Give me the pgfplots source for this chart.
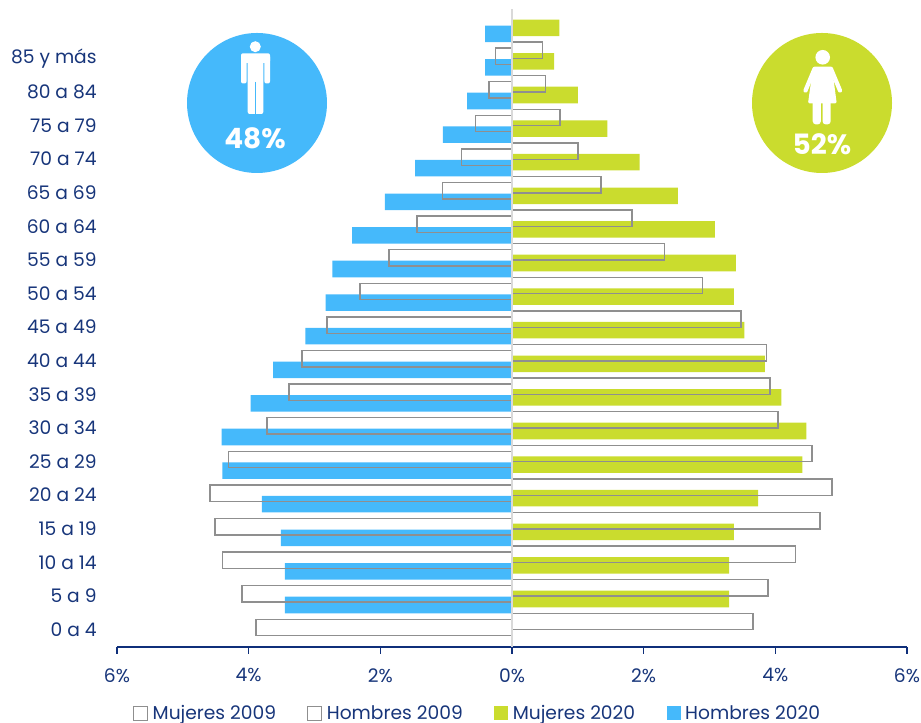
\documentclass[border=0pt]{standalone}
\usepackage{pgfplots}
\pgfplotsset{compat=1.18}
\usepackage{fontspec}
\setmainfont{Poppins}
\definecolor{navy}{HTML}{17357A}
\definecolor{axnavy}{HTML}{0F2F7A}
\definecolor{azul}{HTML}{45B9FB}
\definecolor{verde}{HTML}{CADC2E}
\definecolor{gris}{HTML}{8F8F8F}
\definecolor{eje}{HTML}{D9D9D9}
\begin{document}
\begin{tikzpicture}
\path[use as bounding box] (-87.75pt,-57pt) rectangle (603pt,485.25pt);
\begin{axis}[
  at={(0,0)},anchor=south west,scale only axis,
  width=592.5pt,height=478.5pt,
  xmin=-6,xmax=6,ymin=-0.580,ymax=18.408,
  axis x line*=bottom,axis y line*=left,
  y axis line style={draw=none},
  x axis line style={axnavy,line width=1.5pt,-},
  xtick={-6,-4,-2,0,2,4,6},
  xticklabels={6\%,4\%,2\%,0\%,2\%,4\%,6\%},
  ytick={0,1,...,17},
  yticklabels={0 a 4,5 a 9,10 a 14,15 a 19,20 a 24,25 a 29,30 a 34,35 a 39,40 a 44,45 a 49,50 a 54,55 a 59,60 a 64,65 a 69,70 a 74,75 a 79,80 a 84,85 y más},
  tick align=outside,major tick length=5.25pt,
  x tick style={axnavy,line width=1.1pt},
  y tick style={draw=none},
  tick label style={font=\fontsize{14}{16}\selectfont,text=navy},
  y tick label style={xshift=-6.5pt,yshift=-1.5pt},
  x tick label style={yshift=-7.25pt},
  /pgf/number format/assume math mode=true,
  xbar,bar shift=0pt,bar width=12.4pt,
  clip=false,
  legend columns=4,
  legend cell align=left,
  legend style={draw=none,fill=none,at={(0.5,-0.0)},anchor=north,yshift=-41.5pt,xshift=-25.5pt,
    font=\fontsize{14}{16}\selectfont,text=navy,inner sep=0pt,outer sep=0pt,
    /tikz/every even column/.append style={column sep=21.5pt}},
  legend image code/.code={\path[#1,line width=0.75pt] (0pt,-5.25pt) rectangle (10.5pt,5.25pt);\path (12pt,0pt);},
]
\addlegendimage{draw=gris,fill=white}
\addlegendentry{Mujeres 2009}
\addlegendimage{draw=gris,fill=white}
\addlegendentry{Hombres 2009}
\addlegendimage{draw=none,fill=verde}
\addlegendentry{Mujeres 2020}
\addlegendimage{draw=none,fill=azul}
\addlegendentry{Hombres 2020}

% Hombres 2020
\addplot[forget plot,draw=none,fill=azul] coordinates {
(-3.45,0.67)(-3.45,1.67)(-3.51,2.67)(-3.80,3.67)(-4.40,4.67)(-4.41,5.67)
(-3.97,6.67)(-3.63,7.67)(-3.14,8.67)(-2.83,9.67)(-2.73,10.67)(-2.43,11.67)
(-1.93,12.67)(-1.47,13.67)(-1.05,14.67)(-0.68,15.67)(-0.41,16.67)(-0.41,17.67)};
% Mujeres 2020
\addplot[forget plot,draw=none,fill=verde] coordinates {
(3.30,0.848)(3.30,1.848)(3.37,2.848)(3.74,3.848)(4.41,4.848)(4.47,5.848)
(4.09,6.848)(3.84,7.848)(3.53,8.848)(3.37,9.848)(3.40,10.848)(3.08,11.848)
(2.52,12.848)(1.94,13.848)(1.45,14.848)(1.00,15.848)(0.64,16.848)(0.72,17.848)};
% 2009 left
\addplot[forget plot,draw=gris,fill=none,line width=1.05pt] coordinates {
(-3.89,0)(-4.10,1)(-4.40,2)(-4.51,3)(-4.59,4)(-4.31,5)
(-3.72,6)(-3.39,7)(-3.19,8)(-2.81,9)(-2.31,10)(-1.87,11)
(-1.44,12)(-1.06,13)(-0.77,14)(-0.55,15)(-0.35,16)(-0.25,17)};
% 2009 right
\addplot[forget plot,draw=gris,fill=none,line width=1.05pt] coordinates {
(3.66,0.179)(3.89,1.179)(4.31,2.179)(4.68,3.179)(4.86,4.179)(4.56,5.179)
(4.04,6.179)(3.92,7.179)(3.87,8.179)(3.48,9.179)(2.89,10.179)(2.32,11.179)
(1.82,12.179)(1.35,13.179)(1.00,14.179)(0.73,15.179)(0.51,16.179)(0.46,17.179)};
% eje central
\addplot[forget plot,eje,line width=1.5pt,xbar=false,sharp plot] coordinates {(0,-0.58)(0,18.408)};
\end{axis}
\begin{scope}[x=0.75pt,y=-0.75pt,shift={(-87.75pt,485.25pt)}]
% circulo hombres
\fill[azul] (257,103) circle[radius=70];
\fill[white] (255.3,46.7) circle[radius=5.5];
\fill[white,rounded corners=1.5pt] (241,53.3) rectangle (270,63);
\fill[white,rounded corners=1.5pt] (241,55) rectangle (246.6,83.5);
\fill[white,rounded corners=1.5pt] (264.4,55) rectangle (270,83.5);
\fill[white,rounded corners=1.5pt] (247.7,55) rectangle (263.3,114);
\draw[azul,line width=0.7pt] (255.4,82) -- (255.4,115);
% circulo mujeres
\node[text=white,font=\fontsize{21}{24}\bfseries\selectfont] at (255,138) {48\%};
\fill[verde] (822,103) circle[radius=70];
\fill[white] (822.7,57.3) circle[radius=7.3];
\fill[white,rounded corners=1pt] (813,66.7) -- (832.7,66.7) -- (833,75) -- (836.7,103.3) -- (808,103.3) -- (812,75) -- cycle;
\fill[white,rounded corners=2.5pt] (812.7,100) rectangle (820.9,124.5);
\fill[white,rounded corners=2.5pt] (822.5,100) rectangle (830.7,124.5);
\draw[white,line width=3.2pt,line cap=round] (814.5,69) -- (805.5,90.5);
\draw[white,line width=3.2pt,line cap=round] (831,69) -- (840,90.5);
\node[text=white,font=\fontsize{21}{24}\bfseries\selectfont] at (822,144) {52\%};
\end{scope}
\end{tikzpicture}
\end{document}
